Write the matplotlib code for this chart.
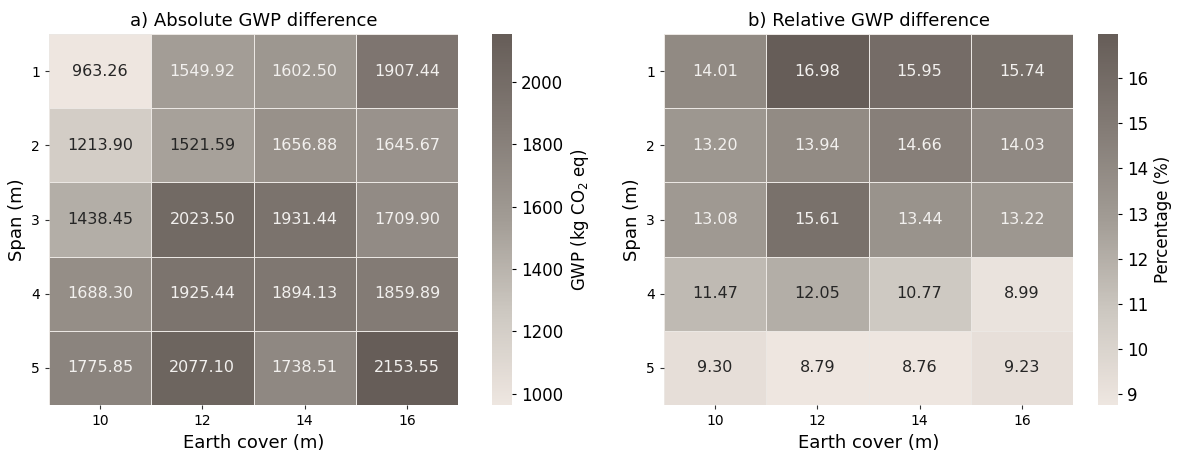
import numpy as np
import matplotlib
matplotlib.use("Agg")
import matplotlib.pyplot as plt
from matplotlib.colors import LinearSegmentedColormap

earth_cover = [10, 12, 14, 16]
span = [1, 2, 3, 4, 5]

abs_gwp = np.array([
    [963.26, 1549.92, 1602.50, 1907.44],
    [1213.90, 1521.59, 1656.88, 1645.67],
    [1438.45, 2023.50, 1931.44, 1709.90],
    [1688.30, 1925.44, 1894.13, 1859.89],
    [1775.85, 2077.10, 1738.51, 2153.55],
])
rel_gwp = np.array([
    [14.01, 16.98, 15.95, 15.74],
    [13.20, 13.94, 14.66, 14.03],
    [13.08, 15.61, 13.44, 13.22],
    [11.47, 12.05, 10.77, 8.99],
    [9.30, 8.79, 8.76, 9.23],
])

cmap = LinearSegmentedColormap.from_list(
    "warmgray", ["#eee6e0", "#cdc8c1", "#a29c95", "#837b75", "#665d58"])

fig = plt.figure(figsize=(11.78, 4.53), dpi=100)
W, H = 1178, 453


def panel(data, left, cb_left, title, cb_label, cb_ticks):
    ax = fig.add_axes([left / W, 1 - 405 / H, 409 / W, 371 / H])
    cax = fig.add_axes([cb_left / W, 1 - 405 / H, 20 / W, 371 / H])
    vmin, vmax = data.min(), data.max()
    m = ax.pcolormesh(data, cmap=cmap, vmin=vmin, vmax=vmax,
                      edgecolor="#ebe7e3", linewidth=0.5)
    ax.set_xlim(0, data.shape[1])
    ax.set_ylim(data.shape[0], 0)
    for i in range(data.shape[0]):
        for j in range(data.shape[1]):
            v = data[i, j]
            frac = (v - vmin) / (vmax - vmin)
            ax.text(j + 0.5, i + 0.5, f"{v:.2f}", ha="center", va="center",
                    fontsize=11.5, color="#262626" if frac < 0.48 else "#f2f0ee")
    ax.set_xticks(np.arange(data.shape[1]) + 0.5)
    ax.set_xticklabels(earth_cover, fontsize=10)
    ax.set_yticks(np.arange(data.shape[0]) + 0.5)
    ax.set_yticklabels(span, fontsize=10, rotation=0)
    ax.tick_params(length=3, width=0.8, color="#333333")
    for s in ax.spines.values():
        s.set_visible(False)
    ax.set_xlabel("Earth cover (m)", fontsize=13)
    ax.set_ylabel("Span (m)", fontsize=13)
    ax.set_title(title, fontsize=13, pad=6)
    cb = fig.colorbar(m, cax=cax)
    cb.outline.set_visible(False)
    cb.set_ticks(cb_ticks)
    cb.ax.tick_params(labelsize=12, length=3, width=0.8)
    cb.set_label(cb_label, fontsize=12)
    return ax


panel(abs_gwp, 49, 492, "a) Absolute GWP difference",
      r"GWP (kg CO$_2$ eq)", [1000, 1200, 1400, 1600, 1800, 2000])
panel(rel_gwp, 664, 1098, "b) Relative GWP difference",
      "Percentage (%)", [9, 10, 11, 12, 13, 14, 15, 16])

fig.savefig("out.png", dpi=100)
